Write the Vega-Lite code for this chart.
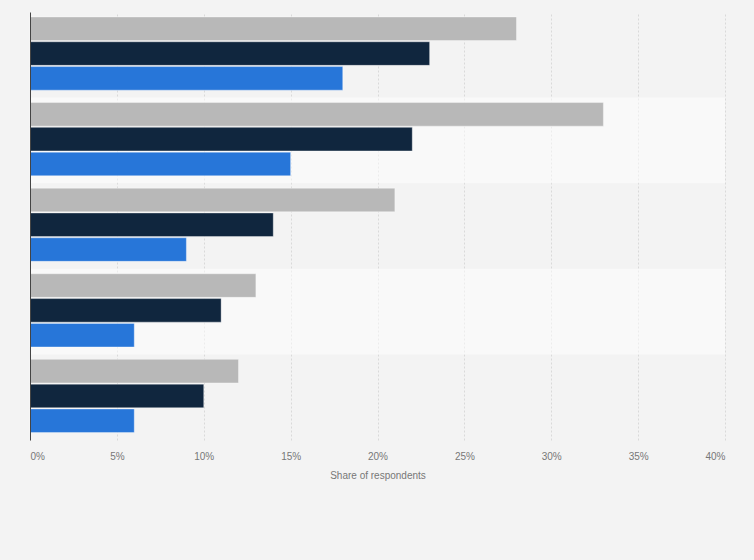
{
  "$schema": "https://vega.github.io/schema/vega-lite/v6.json",
  "width": 695,
  "height": 428,
  "autosize": {"type": "none"},
  "padding": {"left": 30, "top": 12, "right": 29, "bottom": 120},
  "background": "#f3f3f3",
  "config": {"view": {"stroke": null}, "font": "Liberation Sans"},
  "datasets": {
    "bands": [
      {"question": "Q2"},
      {"question": "Q4"}
    ],
    "answers": [
      {"question": "Q1", "series": "S1", "value": 28},
      {"question": "Q1", "series": "S2", "value": 23},
      {"question": "Q1", "series": "S3", "value": 18},
      {"question": "Q2", "series": "S1", "value": 33},
      {"question": "Q2", "series": "S2", "value": 22},
      {"question": "Q2", "series": "S3", "value": 15},
      {"question": "Q3", "series": "S1", "value": 21},
      {"question": "Q3", "series": "S2", "value": 14},
      {"question": "Q3", "series": "S3", "value": 9},
      {"question": "Q4", "series": "S1", "value": 13},
      {"question": "Q4", "series": "S2", "value": 11},
      {"question": "Q4", "series": "S3", "value": 6},
      {"question": "Q5", "series": "S1", "value": 12},
      {"question": "Q5", "series": "S2", "value": 10},
      {"question": "Q5", "series": "S3", "value": 6}
    ]
  },
  "encoding": {
    "y": {
      "field": "question",
      "type": "nominal",
      "sort": ["Q1", "Q2", "Q3", "Q4", "Q5"],
      "scale": {"domain": ["Q1", "Q2", "Q3", "Q4", "Q5"], "paddingInner": 0, "paddingOuter": 0},
      "axis": {"labels": false, "ticks": false, "title": null, "domain": true, "domainColor": "#444444", "domainWidth": 1, "grid": false, "zindex": 1}
    }
  },
  "layer": [
    {
      "data": {"name": "bands"},
      "mark": {"type": "bar", "color": "#ffffff", "opacity": 0.5},
      "encoding": {
        "x": {"datum": 40, "type": "quantitative"},
        "x2": {"datum": 0}
      }
    },
    {
      "data": {"name": "answers"},
      "mark": {"type": "bar", "stroke": "#ffffff", "strokeWidth": 0.6, "strokeOpacity": 0.6},
      "encoding": {
        "x": {
          "field": "value",
          "type": "quantitative",
          "scale": {"domain": [0, 40], "nice": false},
          "axis": {
            "values": [0, 5, 10, 15, 20, 25, 30, 35, 40],
            "labelExpr": "datum.value + '%'",
            "labelFlush": true,
            "labelColor": "#777777",
            "labelFontSize": 10,
            "labelPadding": 11,
            "ticks": false,
            "domain": false,
            "grid": true,
            "gridColor": "#d9d9d9",
            "gridDash": [2, 2],
            "gridWidth": 1,
            "title": "Share of respondents",
            "titleColor": "#777777",
            "titleFontSize": 10,
            "titleFontWeight": "normal",
            "titlePadding": 9
          }
        },
        "yOffset": {
          "field": "series",
          "type": "nominal",
          "sort": ["S1", "S2", "S3"],
          "scale": {"paddingInner": 0.05, "paddingOuter": 0.25, "align": 0.4}
        },
        "color": {
          "field": "series",
          "type": "nominal",
          "sort": ["S1", "S2", "S3"],
          "scale": {"domain": ["S1", "S2", "S3"], "range": ["#b8b8b8", "#10263e", "#2776d9"]},
          "legend": null
        }
      }
    }
  ]
}
